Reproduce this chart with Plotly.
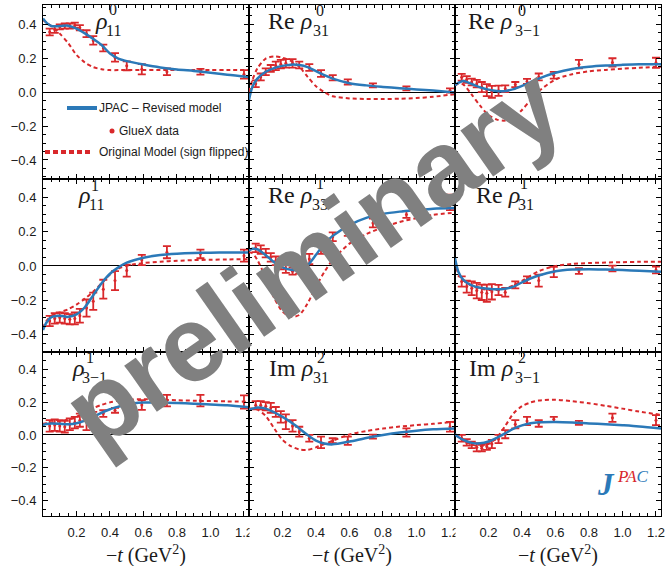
import numpy as np
import plotly.graph_objects as go
from plotly.subplots import make_subplots

# ---------------------------------------------------------------- data
# GlueX bin centres in -t (GeV^2)
T_DATA = [0.04, 0.07, 0.10, 0.13, 0.16, 0.19, 0.22, 0.26, 0.30, 0.36,
          0.43, 0.50, 0.59, 0.74, 0.94, 1.20]
# -t values at which the model curves are tabulated
T_MODEL = [0.0, 0.02, 0.05, 0.10, 0.15, 0.20, 0.25, 0.30, 0.35, 0.40,
           0.45, 0.50, 0.60, 0.70, 0.80, 0.90, 1.00, 1.10, 1.23]

# rho^0_11
R0_11_DATA = [0.355, 0.37, 0.385, 0.39, 0.39, 0.395, 0.38, 0.345, 0.305, 0.26,
              0.205, 0.155, 0.135, 0.12, 0.12, 0.105]
R0_11_ERR = [0.02, 0.02, 0.015, 0.015, 0.015, 0.015, 0.015, 0.02, 0.025, 0.02,
             0.025, 0.027, 0.03, 0.02, 0.017, 0.025]
R0_11_JPAC = [0.435, 0.41, 0.39, 0.39, 0.392, 0.375, 0.347, 0.314, 0.278, 0.228,
              0.198, 0.183, 0.163, 0.146, 0.134, 0.125, 0.115, 0.103, 0.09]
R0_11_ORIG = [0.425, 0.41, 0.39, 0.345, 0.29, 0.22, 0.175, 0.148, 0.135, 0.13,
              0.13, 0.13, 0.13, 0.13, 0.13, 0.13, 0.13, 0.13, 0.13]

# Re rho^0_31
R0_31_DATA = [0.05, 0.09, 0.12, 0.14, 0.155, 0.165, 0.17, 0.17, 0.16, 0.145,
              0.11, 0.085, 0.06, 0.04, 0.022, 0.01]
R0_31_ERR = [0.02, 0.02, 0.02, 0.02, 0.025, 0.025, 0.025, 0.025, 0.02, 0.02,
             0.02, 0.015, 0.015, 0.012, 0.012, 0.012]
R0_31_JPAC = [-0.045, 0.03, 0.08, 0.12, 0.142, 0.155, 0.162, 0.16, 0.148, 0.124,
              0.10, 0.08, 0.053, 0.04, 0.031, 0.023, 0.016, 0.009, -0.002]
R0_31_ORIG = [0.0, 0.07, 0.14, 0.198, 0.21, 0.203, 0.185, 0.15, 0.09, 0.035,
              0.0, -0.024, -0.037, -0.04, -0.04, -0.039, -0.035, -0.027, -0.012]

# Re rho^0_3-1
R0_3M1_DATA = [0.088, 0.075, 0.06, 0.05, 0.03, 0.012, 0.002, 0.008, 0.02, 0.045,
               0.063, 0.09, 0.10, 0.165, 0.175, 0.173]
R0_3M1_ERR = [0.02, 0.02, 0.02, 0.022, 0.03, 0.035, 0.035, 0.03, 0.02, 0.015,
              0.015, 0.02, 0.02, 0.025, 0.025, 0.03]
R0_3M1_JPAC = [0.04, 0.055, 0.066, 0.048, 0.028, 0.015, 0.007, 0.007, 0.018, 0.037,
               0.058, 0.08, 0.114, 0.137, 0.15, 0.157, 0.161, 0.164, 0.165]
R0_3M1_ORIG = [0.04, 0.05, 0.045, -0.015, -0.08, -0.135, -0.162, -0.168, -0.15, -0.105,
               -0.047, 0.005, 0.075, 0.106, 0.123, 0.131, 0.138, 0.144, 0.15]

# rho^1_11
R1_11_DATA = [-0.32, -0.305, -0.30, -0.305, -0.31, -0.305, -0.29, -0.245, -0.205, -0.135,
              -0.085, -0.027, 0.035, 0.08, 0.07, 0.06]
R1_11_ERR = [0.03, 0.03, 0.03, 0.03, 0.03, 0.035, 0.04, 0.05, 0.05, 0.055,
             0.055, 0.035, 0.03, 0.035, 0.025, 0.035]
R1_11_JPAC = [-0.372, -0.33, -0.298, -0.29, -0.296, -0.282, -0.24, -0.17, -0.10, -0.045,
              -0.008, 0.019, 0.048, 0.064, 0.071, 0.075, 0.077, 0.078, 0.078]
R1_11_ORIG = [-0.36, -0.32, -0.29, -0.27, -0.252, -0.225, -0.19, -0.149, -0.10, -0.05,
              -0.015, 0.002, 0.017, 0.025, 0.03, 0.034, 0.036, 0.038, 0.039]

# Re rho^1_33
R1_33_DATA = [0.105, 0.095, 0.075, 0.05, 0.03, 0.005, -0.015, -0.03, -0.02, 0.04,
              0.10, 0.17, 0.20, 0.25, 0.30, 0.37]
R1_33_ERR = [0.025, 0.025, 0.025, 0.025, 0.025, 0.025, 0.025, 0.02, 0.025, 0.03,
             0.03, 0.025, 0.025, 0.025, 0.02, 0.045]
R1_33_JPAC = [0.09, 0.10, 0.097, 0.063, 0.022, -0.008, -0.022, -0.022, 0.005, 0.065,
              0.13, 0.175, 0.238, 0.28, 0.303, 0.316, 0.325, 0.333, 0.337]
R1_33_ORIG = [0.08, 0.075, 0.035, -0.07, -0.185, -0.265, -0.295, -0.285, -0.217, -0.12,
              -0.035, 0.035, 0.13, 0.185, 0.225, 0.256, 0.278, 0.297, 0.31]

# Re rho^1_31
R1_31_DATA = [-0.09, -0.12, -0.13, -0.143, -0.153, -0.159, -0.15, -0.14, -0.153, -0.11,
              -0.08, -0.085, -0.035, -0.029, -0.015, -0.023]
R1_31_ERR = [0.03, 0.035, 0.04, 0.045, 0.045, 0.05, 0.045, 0.03, 0.025, 0.02,
             0.02, 0.035, 0.03, 0.017, 0.017, 0.02]
R1_31_JPAC = [0.045, -0.033, -0.081, -0.113, -0.127, -0.133, -0.136, -0.132, -0.12, -0.095,
              -0.073, -0.055, -0.031, -0.021, -0.019, -0.021, -0.024, -0.028, -0.033]
R1_31_ORIG = [0.03, -0.045, -0.085, -0.115, -0.132, -0.139, -0.14, -0.13, -0.112, -0.086,
              -0.057, -0.03, 0.0, 0.012, 0.017, 0.02, 0.022, 0.024, 0.025]

# rho^1_3-1
R1_3M1_DATA = [0.055, 0.06, 0.055, 0.05, 0.065, 0.075, 0.09, 0.085, 0.11, 0.13,
               0.15, 0.17, 0.182, 0.209, 0.209, 0.20]
R1_3M1_ERR = [0.035, 0.035, 0.035, 0.035, 0.035, 0.035, 0.04, 0.055, 0.03, 0.02,
              0.015, 0.02, 0.03, 0.035, 0.035, 0.04]
R1_3M1_JPAC = [0.061, 0.066, 0.07, 0.068, 0.065, 0.071, 0.087, 0.11, 0.135, 0.156,
               0.172, 0.186, 0.197, 0.197, 0.194, 0.19, 0.185, 0.18, 0.168]
R1_3M1_ORIG = [0.068, 0.072, 0.077, 0.084, 0.093, 0.11, 0.137, 0.163, 0.183, 0.198,
               0.208, 0.214, 0.217, 0.214, 0.211, 0.208, 0.206, 0.204, 0.202]

# Im rho^2_31
R2_31_DATA = [0.18, 0.18, 0.175, 0.165, 0.14, 0.11, 0.08, 0.055, 0.02, -0.02,
              -0.045, -0.035, -0.035, -0.01, 0.015, 0.05]
R2_31_ERR = [0.025, 0.025, 0.025, 0.03, 0.03, 0.035, 0.045, 0.035, 0.03, 0.02,
             0.035, 0.015, 0.025, 0.012, 0.025, 0.03]
R2_31_JPAC = [0.152, 0.16, 0.167, 0.16, 0.138, 0.11, 0.078, 0.04, 0.0, -0.034,
              -0.052, -0.057, -0.04, -0.018, 0.0, 0.015, 0.026, 0.034, 0.04]
R2_31_ORIG = [0.16, 0.16, 0.155, 0.115, 0.04, -0.03, -0.068, -0.088, -0.09, -0.075,
              -0.055, -0.035, 0.003, 0.024, 0.039, 0.051, 0.06, 0.068, 0.08]

# Im rho^2_3-1
R2_3M1_DATA = [-0.02, -0.045, -0.06, -0.075, -0.08, -0.07, -0.055, -0.025, 0.005, 0.065,
               0.085, 0.07, 0.095, 0.073, 0.105, 0.09]
R2_3M1_ERR = [0.02, 0.02, 0.02, 0.025, 0.02, 0.02, 0.025, 0.025, 0.025, 0.025,
              0.025, 0.02, 0.015, 0.012, 0.025, 0.03]
R2_3M1_JPAC = [0.004, -0.012, -0.03, -0.048, -0.051, -0.04, -0.017, 0.01, 0.038, 0.058,
               0.071, 0.077, 0.079, 0.076, 0.07, 0.065, 0.059, 0.052, 0.04]
R2_3M1_ORIG = [0.004, -0.012, -0.032, -0.058, -0.068, -0.055, -0.015, 0.055, 0.132, 0.175,
               0.197, 0.209, 0.214, 0.205, 0.193, 0.177, 0.16, 0.142, 0.122]

# panel titles: prefix, superscript, subscript
TITLE_PREFIX = ["", "Re", "Re", "", "Re", "Re", "", "Im", "Im"]
TITLE_SUP = ["0", "0", "0", "1", "1", "1", "1", "2", "2"]
TITLE_SUB = ["11", "31", "3\u22121", "11", "33", "31", "3\u22121", "31", "3\u22121"]

X_TICKS = [0.2, 0.4, 0.6, 0.8, 1.0, 1.2]
X_TICK_TEXT = ["0.2", "0.4", "0.6", "0.8", "1.0", "1.2"]
Y_TICKS = [-0.4, -0.2, 0.0, 0.2, 0.4]
Y_TICK_TEXT = ["\u22120.4", "\u22120.2", "0.0", "0.2", "0.4"]

PANEL_DATA = [R0_11_DATA, R0_31_DATA, R0_3M1_DATA,
              R1_11_DATA, R1_33_DATA, R1_31_DATA,
              R1_3M1_DATA, R2_31_DATA, R2_3M1_DATA]
PANEL_ERR = [R0_11_ERR, R0_31_ERR, R0_3M1_ERR,
             R1_11_ERR, R1_33_ERR, R1_31_ERR,
             R1_3M1_ERR, R2_31_ERR, R2_3M1_ERR]
PANEL_JPAC = [R0_11_JPAC, R0_31_JPAC, R0_3M1_JPAC,
              R1_11_JPAC, R1_33_JPAC, R1_31_JPAC,
              R1_3M1_JPAC, R2_31_JPAC, R2_3M1_JPAC]
PANEL_ORIG = [R0_11_ORIG, R0_31_ORIG, R0_3M1_ORIG,
              R1_11_ORIG, R1_33_ORIG, R1_31_ORIG,
              R1_3M1_ORIG, R2_31_ORIG, R2_3M1_ORIG]

# ---------------------------------------------------------------- style
BLUE = "#2b79b8"
RED = "#d9282b"
INK = "#1a1a1a"
W, H = 671, 566
ML, MR, MT, MB = 43, 10, 5, 50
PW, PH = W - ML - MR, H - MT - MB

SERIF = "Liberation Serif, Times New Roman, serif"
SANS = "Liberation Sans, Arial, sans-serif"

ROW_TOP_PX = [5.0, 179.3, 352.3]
ROW_BOTTOM_PX = [179.3, 352.3, 516.0]
ROW_RANGES = [(-0.514, 0.514), (-0.502, 0.504), (-0.492, 0.502)]
X_RANGE = (0.0, 1.23)


def px_x(px):
    return (px - ML) / PW


def px_y(py):
    return (MT + PH - py) / PH


fig = make_subplots(rows=3, cols=3, horizontal_spacing=0, vertical_spacing=0)

minor_x = [v for v in np.round(np.arange(0.05, 1.23, 0.05), 2) if round(v / 0.2, 6) % 1 != 0]
minor_y = [v for v in np.round(np.arange(-0.5, 0.51, 0.05), 2) if round(v / 0.2, 6) % 1 != 0]

for i in range(9):
    r, c = divmod(i, 3)
    # theoretical curve of the original model (sign flipped)
    fig.add_trace(go.Scatter(
        x=T_MODEL, y=PANEL_ORIG[i], mode="lines",
        line=dict(color=RED, width=2, dash="4px,3px", shape="spline", smoothing=0.8),
        showlegend=False, hoverinfo="skip"), row=r + 1, col=c + 1)
    # GlueX measurements
    fig.add_trace(go.Scatter(
        x=T_DATA, y=PANEL_DATA[i], mode="markers",
        marker=dict(color=RED, size=3),
        error_y=dict(type="data", array=PANEL_ERR[i], color=RED, thickness=1.8, width=4),
        showlegend=False), row=r + 1, col=c + 1)
    # revised JPAC model
    fig.add_trace(go.Scatter(
        x=T_MODEL, y=PANEL_JPAC[i], mode="lines",
        line=dict(color=BLUE, width=2.5, shape="spline", smoothing=0.8),
        showlegend=False, hoverinfo="skip"), row=r + 1, col=c + 1)

    xd = [c / 3, (c + 1) / 3]
    yd = [px_y(ROW_BOTTOM_PX[r]), px_y(ROW_TOP_PX[r])]
    axis_common = dict(
        showline=True, linecolor="black", linewidth=1, mirror="ticks",
        ticks="inside", ticklen=5, tickwidth=1, tickcolor="black",
        showgrid=False,
        tickfont=dict(family=SANS, size=13, color=INK),
    )
    fig.update_xaxes(
        domain=xd, range=list(X_RANGE), tickmode="array",
        tickvals=X_TICKS, ticktext=X_TICK_TEXT, showticklabels=(r == 2),
        zeroline=False, ticklabelstandoff=4,
        minor=dict(ticks="inside", ticklen=3, tickwidth=1, tickcolor="black",
                   tickmode="array", tickvals=minor_x, showgrid=False),
        row=r + 1, col=c + 1, **axis_common)
    fig.update_yaxes(
        domain=yd, range=list(ROW_RANGES[r]), tickmode="array",
        tickvals=Y_TICKS, ticktext=Y_TICK_TEXT, showticklabels=(c == 0),
        zeroline=True, zerolinecolor="black", zerolinewidth=1, ticklabelstandoff=3,
        minor=dict(ticks="inside", ticklen=3, tickwidth=1, tickcolor="black",
                   tickmode="array", tickvals=minor_y, showgrid=False),
        row=r + 1, col=c + 1, **axis_common)

annotations = []
shapes = []


def text_at(px, py, text, size, family=SERIF, color=INK, xanchor="left", yanchor="middle", **kw):
    annotations.append(dict(
        x=px_x(px), y=px_y(py), xref="paper", yref="paper", text=text, showarrow=False,
        xanchor=xanchor, yanchor=yanchor, font=dict(family=family, size=size, color=color),
        borderpad=0, **kw))


# panel titles, with the superscript stacked over the subscript
TITLE_X = [(94, 108, 105), (267, 315, 312), (467, 517, 514),
           (77, 90, 88), (267, 315, 311), (475, 519, 517),
           (71, 85, 81), (268, 316, 312), (468, 517, 514)]
SUP_DY = [4, 5, 5, 6, 4, 4, 5, 5, 5]
for i in range(9):
    r = i // 3
    top = ROW_TOP_PX[r]
    mx, sx, bx = TITLE_X[i]
    main = (TITLE_PREFIX[i] + " " if TITLE_PREFIX[i] else "") + "<i>\u03c1</i>"
    text_at(mx, top + 16, main, 24)
    text_at(sx, top + SUP_DY[i], TITLE_SUP[i], 16)
    text_at(bx, top + 25, TITLE_SUB[i], 16)

# axis titles under each column
for c in range(3):
    cx = ML + PW * (c + 0.5) / 3
    text_at(cx, 554, "\u2212<i>t</i> (GeV<sup>2</sup>)", 20, xanchor="center")

# hide the overflow of the "1.2" labels into the neighbouring column
for c in (1, 2):
    bx = ML + PW * c / 3
    shapes.append(dict(type="rect", xref="paper", yref="paper", layer="above",
                       x0=px_x(bx + 0.5), x1=px_x(bx + 9), y0=px_y(545), y1=px_y(519),
                       fillcolor="white", line=dict(width=0)))

# legend in the first panel
shapes.append(dict(type="line", xref="paper", yref="paper",
                   x0=px_x(67), x1=px_x(97), y0=px_y(108), y1=px_y(108),
                   line=dict(color=BLUE, width=4)))
shapes.append(dict(type="circle", xref="paper", yref="paper",
                   x0=px_x(109.5), x1=px_x(114.5), y0=px_y(133.5), y1=px_y(128.5),
                   fillcolor=RED, line=dict(color=RED, width=0)))
shapes.append(dict(type="line", xref="paper", yref="paper",
                   x0=px_x(45), x1=px_x(91), y0=px_y(152), y1=px_y(152),
                   line=dict(color=RED, width=4, dash="5px,3px")))
text_at(98, 108, "JPAC \u2013 Revised model", 12, family=SANS)
text_at(118, 131, "GlueX data", 12, family=SANS)
text_at(98, 152, "Original Model (sign flipped)", 12, family=SANS)

# JPAC logo
text_at(596, 484, "<b><i>J</i></b>", 31, color=BLUE)
text_at(616, 476,
        "<i><span style='color:%s'>P</span><span style='color:%s'>A</span>"
        "<span style='color:%s'>C</span></i>" % (RED, RED, BLUE), 17)

# watermark
annotations.append(dict(
    x=px_x(312), y=px_y(258), xref="paper", yref="paper", text="<b>preliminary</b>",
    showarrow=False, xanchor="center", yanchor="middle", textangle=-35,
    font=dict(family=SANS, size=107, color="#808080")))

fig.update_layout(
    width=W, height=H,
    margin=dict(l=ML, r=MR, t=MT, b=MB),
    paper_bgcolor="white", plot_bgcolor="white",
    showlegend=False,
    annotations=annotations, shapes=shapes,
)

fig.write_html("out.html")
